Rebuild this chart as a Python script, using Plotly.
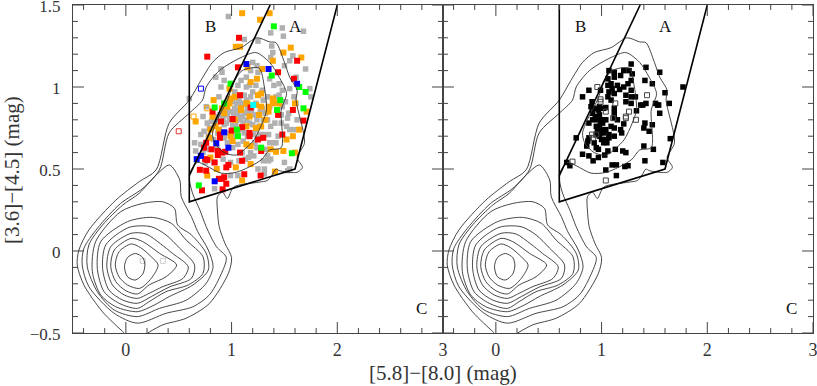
import plotly.graph_objects as go

# contour levels, inner to outer, in colour-colour coordinates
c1 = [(.09,-.015),(.16,-.04),(.18,-.085),(.16,-.14),(.09,-.177),(.015,-.157),(-.013,-.095),(.015,-.04),(.09,-.015)]
c2 = [(.05,.043),(.14,.02),(.24,-.035),(.305,-.085),(.24,-.167),(.13,-.228),(.015,-.207),(-.065,-.157),(-.1,-.085),(-.065,-.005),(.05,.043)]
c3 = [(.05,.077),(.16,.057),(.32,-.015),(.48,-.085),(.38,-.157),(.22,-.207),(.11,-.262),(0,-.242),(-.095,-.187),(-.143,-.095),(-.11,.006),(.05,.077)]
c4 = [(.05,.108),(.19,.104),(.33,.043),(.44,-.014),(.59,-.096),(.54,-.167),(.35,-.217),(.22,-.258),(.11,-.289),(-.016,-.268),(-.127,-.207),(-.18,-.096),(-.143,.026),(.05,.108)]
c5 = [(.03,.144),(.24,.148),(.38,.098),(.51,.016),(.65,-.085),(.62,-.167),(.41,-.22),(.24,-.278),(.11,-.319),(-.03,-.299),(-.16,-.238),(-.22,-.106),(-.19,.037),(.03,.144)]
c6 = [(.016,.179),(.25,.205),(.43,.169),(.57,.067),(.73,-.035),(.73,-.136),(.59,-.207),(.38,-.248),(.22,-.309),(.11,-.35),(-.063,-.319),(-.206,-.248),(-.27,-.106),(-.238,.057),(.016,.179)]
c7 = [(-.048,.24),(.16,.29),(.35,.30),(.46,.26),(.49,.159),(.62,.098),(.76,-.014),(.78,-.116),(.635,-.207),(.41,-.278),(.27,-.329),(.11,-.37),(-.095,-.34),(-.238,-.268),(-.317,-.126),(-.286,.057),(-.048,.24)]
c8 = [(.413,.524),(.51,.433),(.524,.331),(.62,.209),(.68,.118),(.78,.006),(.825,-.096),(.76,-.197),(.57,-.30),(.317,-.35),(.11,-.40),(-.11,-.36),(-.27,-.248),(-.365,-.096),(-.35,.037),(-.22,.159),(-.03,.28),(.127,.352),(.286,.463),(.413,.524)]
c9 = [(.11,-.44),(.38,-.38),(.635,-.34),(.79,-.268),(.89,-.157),(.95,-.04),(.857,.026),(.76,.148),(.70,.25),(.63,.354),(.6,.463),(.676,.54),(.76,.52),(.90,.475),(1.045,.48),(1.28,.555),(1.36,.616),(1.47,.63),(1.47,.86),(1.52,.96),(1.45,1.06),(1.36,1.15),(1.23,1.21),(1.09,1.18),(.885,1.10),(.76,1.0),(.725,.92),(.6,.84),(.41,.72),(.317,.494),(.16,.382),(-.05,.29),(-.27,.138),(-.397,.016),(-.413,-.085),(-.35,-.217),(-.11,-.38),(.11,-.44)]
c10 = [(.206,-.5),(.35,-.45),(.57,-.41),(.79,-.32),(.97,-.136),(1.0,-.04),(.937,.047),(.883,.148),(.866,.25),(.866,.33),(.913,.36),(.96,.32),(1.02,.39),(1.26,.42),(1.34,.43),(1.38,.46),(1.42,.50),(1.45,.49),(1.62,.48),(1.67,.51),(1.62,.57),(1.69,.66),(1.61,.92),(1.62,.98),(1.55,1.06),(1.50,1.15),(1.42,1.27),(1.36,1.275),(1.24,1.30),(1.09,1.24),(.93,1.21),(.82,1.15),(.71,1.04),(.6,.92),(.41,.78),(.286,.494),(.127,.423),(-.095,.31),(-.35,.128),(-.444,.006),(-.46,-.085),(-.397,-.207),(-.222,-.37),(-.032,-.49),(-.016,-.5)]
c_in = [(1.03,1.04),(1.10,1.10),(1.26,1.115),(1.31,1.0),(1.33,.86),(1.29,.78),(1.215,.68),(1.14,.63),(1.045,.585),(.93,.60),(.84,.66),(.82,.72),(.866,.80),(.96,.92),(1.03,1.04)]
contours = [c1, c2, c3, c4, c5, c6, c7, c8, c9, c10, c_in]

# selection box and the A/B divider
box_x = [0.6, 0.6, 1.6, 2.0]
box_y = [1.5, 0.3, 0.5, 1.5]
div_x = [0.6, 1.365]
div_y = [0.46, 1.5]

# tick positions, drawn on all four sides of each panel
x_major = [0, 1, 2, 3]
x_minor = [-.4, -.2, .2, .4, .6, .8, 1.2, 1.4, 1.6, 1.8, 2.2, 2.4, 2.6, 2.8]
y_major = [-.5, 0, .5, 1, 1.5]
y_minor = [-.4, -.3, -.2, -.1, .1, .2, .3, .4, .6, .7, .8, .9, 1.1, 1.2, 1.3, 1.4]

gray = [(.97,1.43),(1.48,1.36),(1.68,1.34),(1.37,1.33),(1.49,1.31),(1.12,1.29),(1.25,1.28),(1.38,1.25),(1.39,1.21),(1.37,1.18),
        (1.58,1.19),(1.55,1.16),(1.50,1.13),(1.70,1.11),(.90,1.11),(.91,1.09),(1.20,1.15),(1.24,1.13),(1.18,1.10),(1.25,1.09),
        (1.61,1.06),(1.14,1.06),(1.36,1.05),(1.40,1.01),(1.45,1.02),(1.55,.99),(1.74,.99),(1.75,.94),(1.59,.94),(1.48,.98),
        (.85,1.06),(.93,1.04),(1.09,1.04),(1.17,1.01),(1.06,1.01),(1.14,1.0),(1.23,1.01),(1.29,.98),(.90,1.0),(.88,.94),
        (.60,.93),(.76,.88),(1.03,.97),(1.12,.95),(1.18,.94),(1.34,.94),(1.51,.91),(1.61,.90),(1.09,.90),(1.23,.90),
        (1.36,.88),(1.48,.88),(.95,.90),(1.03,.87),(1.15,.87),(1.29,.87),(1.14,.92),(1.20,.97),(1.07,.93),(1.01,.91),
        (.73,.82),(.65,.66),(.66,.61),(.71,.71),(.79,.75),(.84,.82),(.94,.86),(.96,.83),(.99,.85),(1.02,.83),
        (1.04,.86),(1.06,.83),(1.08,.80),(.98,.80),(.95,.78),(1.01,.78),(1.04,.77),(.92,.81),(1.12,.84),(1.16,.85),
        (1.19,.86),(1.21,.83),(1.24,.80),(1.14,.80),(1.17,.78),(1.20,.77),(1.26,.76),(1.30,.80),(1.32,.84),(1.27,.85),
        (1.34,.80),(1.37,.76),(1.41,.78),(1.47,.78),(1.52,.76),(1.55,.74),(1.59,.74),(1.44,.70),(1.40,.66),(1.36,.66),
        (1.42,.66),(1.31,.71),(1.35,.71),(1.07,.74),(1.12,.72),(1.03,.70),(.97,.72),(.93,.69),(.96,.66),(1.01,.63),
        (1.06,.65),(1.11,.67),(1.15,.70),(1.21,.71),(1.22,.66),(1.18,.60),(1.21,.58),(1.30,.55),(1.35,.55),(1.31,.50),
        (1.25,.50),(1.31,.47),(1.50,.54),(1.55,.50),(1.53,.49),(.84,.38),(.83,.54),(.99,.46),(1.06,.46),(.92,.56),
        (.99,.54),(.74,.73),(.78,.70),(.83,.68),(.87,.72),(.71,.65),(.79,.62),(.73,.60),(.86,.79),(.89,.83),
        (.81,.79),(.77,.78),(.86,.63),(1.01,.75),(.93,.77),(1.10,.82),(1.05,.90),(.97,.93),(1.11,.78),(1.23,.74),
        (1.27,.71),(1.32,.62),(1.16,.57),(1.10,.60),(1.24,.63),(1.37,.56),(1.07,.55),(1.45,.95),(1.54,.84),(1.53,.81),
        (1.47,.83),(1.62,.80),(1.30,.92),(1.42,.94),(1.06,.72),(1.00,.67),(1.16,.64),(1.13,.56),(1.34,.58),(.75,.54)]
orange = [(1.10,1.45),(1.27,1.41),(1.36,1.45),(1.04,1.245),(1.08,1.245),(1.56,1.24),(1.49,1.21),(1.66,1.18),(1.39,1.16),(1.15,1.12),
          (1.29,1.11),(1.24,1.05),(1.18,1.03),(1.28,.96),(1.25,.95),(.99,.93),(1.03,.94),(.83,.92),(.98,.90),(1.39,.93),
          (1.39,.90),(1.45,.90),(1.15,.90),(1.28,.88),(.91,.87),(1.09,.87),(.98,.99),(.66,.79),(.82,.82),(1.09,.86),
          (1.14,.90),(1.23,.89),(1.35,.85),(1.40,.905),(1.60,.90),(1.71,.85),(1.17,.82),(1.14,.76),(.99,.70),(.85,.76),
          (.80,.74),(.79,.69),(1.28,.76),(1.23,.75),(1.14,.65),(1.18,.64),(1.52,.68),(1.58,.70),(1.64,.74),(1.37,.62),
          (1.42,.605),(1.49,.61),(1.60,.60),(.80,.57),(.86,.50),(.77,.46),(1.04,.51),(1.18,.53),(1.10,.43),(1.41,.484),
          (1.01,.67),(.88,.74),(1.26,.83),(1.35,.88),(.96,.88),(1.32,.80),(.93,.84),(1.03,.80)]
red = [(1.07,1.30),(.77,1.185),(1.62,1.16),(1.06,1.12),(1.44,1.09),(1.59,1.05),(1.08,.95),(1.18,.875),(1.58,.86),(.82,.85),
       (.90,.79),(1.01,.805),(1.10,.755),(1.0,.734),(1.17,.72),(1.17,.70),(.89,.71),(.89,.69),(1.25,.68),(1.30,.69),
       (1.48,.71),(1.44,.83),(1.68,.795),(.76,.66),(.74,.63),(.81,.62),(.87,.61),(.87,.585),(.91,.60),(.94,.605),
       (1.08,.60),(1.28,.61),(.75,.56),(.77,.555),(.84,.54),(1.10,.55),(.97,.525),(.95,.51),(.70,.495),(.76,.49),
       (1.12,.468),(1.275,.46),(.93,.45),(.88,.44),(.91,.44),(.95,.41),(.915,.376),(.72,.37)]
green = [(1.40,1.37),(1.38,1.07),(1.64,1.0),(1.70,.97),(.99,1.02),(1.46,.92),(1.68,.87),(.84,.875),(.93,.90),(1.43,.86),
         (1.05,.74),(1.06,.70),(1.28,.63),(1.57,.596),(.69,.40)]
blue = [(1.14,1.14),(1.35,1.11),(1.62,1.02),(.93,.724),(.855,.657),(.97,.63),(.71,.58),(.67,.56),(.84,.425)]
cyan = [(1.205,.89)]
open_orange = [(.77,.87),(.64,.82)]
open_red = [(.50,.73)]
open_blue = [(.71,.99)]
open_faint = [(.16,-.06),(.35,-.06)]

black = [(1.28,1.14),(1.42,1.12),(1.55,1.09),(1.41,1.04),(1.48,1.02),(1.77,1.0),(1.60,.965),(1.64,.90),(1.53,.89),(.88,.98),
         (.82,.94),(.99,.98),(1.07,1.10),(1.12,1.09),(1.21,1.10),(1.26,1.10),(1.29,1.08),(1.18,1.07),(1.12,1.06),(1.06,1.05),
         (1.28,1.04),(1.25,1.02),(1.09,1.02),(1.06,1.01),(1.15,1.01),(1.21,1.0),(1.28,.98),(1.10,.99),(1.17,.985),(1.07,.97),
         (1.12,.96),(1.23,.95),(1.28,.94),(1.32,.94),(1.06,.94),(1.09,.92),(.91,.91),(.90,.88),(.93,.87),(.98,.88),
         (1.23,.91),(1.28,.90),(1.39,.89),(1.42,.90),(1.12,.87),(1.04,.875),(1.37,.89),(1.51,.90),(1.54,.89),(1.55,.84),
         (1.33,.855),(.915,.84),(1.02,.87),(1.12,.84),(.98,.83),(.915,.80),(.88,.78),(1.01,.80),(1.12,.81),(1.15,.80),
         (1.21,.775),(.98,.76),(1.01,.78),(.96,.74),(1.01,.74),(1.09,.76),(1.12,.75),(1.18,.74),(1.19,.72),(.76,.69),
         (.88,.69),(.87,.67),(.86,.64),(.95,.71),(1.02,.72),(1.07,.71),(1.12,.70),(1.04,.68),(1.07,.69),(.93,.66),
         (1.02,.66),(.95,.63),(.97,.62),(1.06,.61),(1.13,.62),(1.20,.61),(1.23,.60),(.82,.59),(.88,.58),(.97,.57),
         (1.03,.585),(.92,.55),(.67,.54),(.70,.52),(1.04,.494),(1.10,.525),(1.14,.525),(1.22,.515),(1.25,.52),(1.14,.46),
         (1.41,.55),(1.58,.54),(1.49,.62),(1.40,.64),(1.45,.73),(1.40,.75),(1.41,.78),(1.48,.77),(1.65,.685),(.96,.80),
         (.99,.78),(1.04,.74),(.98,.70),(1.00,.68),(1.05,.66),(.99,.72),(.95,.76),(1.04,.80),(.94,.82),(.97,.86)]
open_black = [(.99,.925),(1.43,.95),(1.13,.90),(.96,1.0),(1.26,.85),(1.23,.82),(1.23,.81),(1.325,.80),(1.04,.85),(.91,.71),
              (.95,.71),(.725,.545),(1.04,.43),(.92,.69),(.99,.91),(1.11,.81)]

INK = "#333333"
AXIS = "#444444"
X_RANGE = [-0.5, 3]
Y_RANGE = [-0.5, 1.5]
fig = go.Figure()


def add_pts(pts, xa, ya, color, size=5.5, symbol="square", line=0):
    fig.add_trace(go.Scatter(
        x=[p[0] for p in pts], y=[p[1] for p in pts], mode="markers", xaxis=xa, yaxis=ya,
        marker=dict(symbol=symbol, size=size, color=color, line=dict(width=line, color=color)),
    ))


def add_ticks(xa, ya):
    # one path per panel, tick lengths in axis units (about 11 and 5 px)
    xs, ys = [], []
    for vals, dy in [(x_major, .067), (x_minor, .03)]:
        for v in vals:
            xs += [v, v, None, v, v, None]
            ys += [Y_RANGE[0], Y_RANGE[0] + dy, None, Y_RANGE[1], Y_RANGE[1] - dy, None]
    for vals, dx in [(y_major, .104), (y_minor, .047)]:
        for v in vals:
            xs += [X_RANGE[0], X_RANGE[0] + dx, None, X_RANGE[1], X_RANGE[1] - dx, None]
            ys += [v, v, None, v, v, None]
    fig.add_trace(go.Scatter(x=xs, y=ys, mode="lines", xaxis=xa, yaxis=ya, line=dict(color=AXIS, width=1)))


left_layers = [(gray, "#b0b0b0", 5.5), (orange, "#ffa500", 6), (red, "#ff0000", 6),
               (green, "#00ff00", 6), (blue, "#0000ff", 6), (cyan, "#00ffff", 6)]
for pts, color, size in left_layers:
    add_pts(pts, "x", "y", color, size)
for pts, color in [(open_orange, "#ffa500"), (open_red, "#e03030"), (open_blue, "#0000ff"), (open_faint, "#cccccc")]:
    add_pts(pts, "x", "y", color, 5, "square-open", 1)
add_pts(black, "x2", "y2", "#000000", 5.5)
add_pts(open_black, "x2", "y2", "#444444", 5, "square-open", 1)

for xa, ya in [("x", "y"), ("x2", "y2")]:
    for c in contours:
        fig.add_trace(go.Scatter(
            x=[p[0] for p in c], y=[p[1] for p in c], mode="lines", xaxis=xa, yaxis=ya,
            line=dict(color=INK, width=0.9, shape="spline", smoothing=0.8),
        ))
    fig.add_trace(go.Scatter(x=box_x, y=box_y, mode="lines", xaxis=xa, yaxis=ya, line=dict(color="#000000", width=1.6)))
    fig.add_trace(go.Scatter(x=div_x, y=div_y, mode="lines", xaxis=xa, yaxis=ya, line=dict(color="#000000", width=1.6)))
    add_ticks(xa, ya)

FONT = "Liberation Serif"
x_style = dict(range=X_RANGE, dtick=1, tick0=0, ticks="", showgrid=False, zeroline=False,
               showline=True, linecolor=AXIS, linewidth=1, mirror=True,
               automargin=False, ticklabeloverflow="allow",
               tickfont=dict(family=FONT, size=18, color="#333333"))
y_style = dict(range=Y_RANGE, dtick=0.5, tick0=0, ticks="", showgrid=False, zeroline=False,
               showline=True, linecolor=AXIS, linewidth=1, mirror=True,
               automargin=False, ticklabelstandoff=8, ticklabeloverflow="allow", ticklabelshift=1,
               tickfont=dict(family=FONT, size=17, color="#333333"))

annotations = []
for xr, yr in [("x", "y"), ("x2", "y2")]:
    for txt, ax, ay, size in [("B", 0.8, 1.37, 17), ("A", 1.6, 1.37, 17), ("C", 2.8, -0.35, 17)]:
        annotations.append(dict(text=txt, x=ax, y=ay, xref=xr, yref=yr, showarrow=False,
                                font=dict(family=FONT, size=size, color="#111111")))
annotations.append(dict(text="[5.8]−[8.0] (mag)", x=443 / 817, y=13 / 386, xref="paper", yref="paper", showarrow=False,
                        xanchor="center", yanchor="middle", font=dict(family=FONT, size=21, color="#333333")))
annotations.append(dict(text="[3.6]−[4.5] (mag)", x=12 / 817, y=216 / 386, xref="paper", yref="paper", showarrow=False,
                        xanchor="center", yanchor="middle", textangle=-90, font=dict(family=FONT, size=21, color="#333333")))

fig.update_layout(
    width=817, height=386, margin=dict(l=0, r=0, t=0, b=0), showlegend=False,
    paper_bgcolor="white", plot_bgcolor="white", annotations=annotations,
    xaxis=dict(domain=[73 / 817, 443 / 817], anchor="y", **x_style),
    yaxis=dict(domain=[53 / 386, 381 / 386], anchor="x", **y_style),
    xaxis2=dict(domain=[443 / 817, 813 / 817], anchor="y2", **x_style),
    yaxis2=dict(domain=[53 / 386, 381 / 386], anchor="x2", showticklabels=False, **y_style),
)

fig.write_html("out.html", config=dict(displayModeBar=False),
               post_script="document.body.style.margin='0';")
